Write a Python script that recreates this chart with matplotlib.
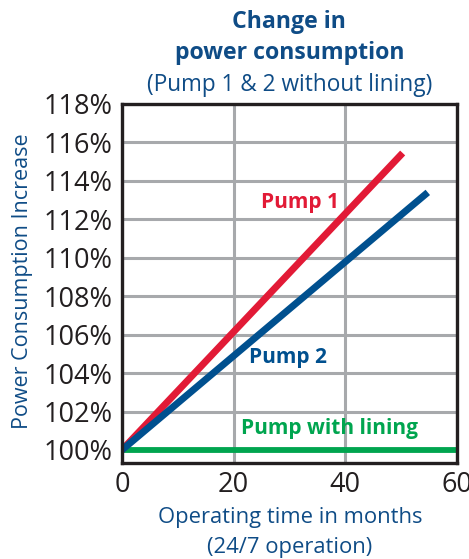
import matplotlib
matplotlib.use("Agg")
import matplotlib.pyplot as plt

plt.rcParams['font.family'] = ['Open Sans', 'DejaVu Sans']

# data
months_pump1 = [0, 50.3]
pump1 = [100, 115.45]
months_pump2 = [0, 54.8]
pump2 = [100, 113.4]
months_lining = [0, 60]
lining = [100, 100]

y_ticks = [100, 102, 104, 106, 108, 110, 112, 114, 116, 118]
y_tick_labels = [f'{v}%' for v in y_ticks]
x_ticks = [0, 20, 40, 60]

red = '#e21a36'
blue = '#00508f'
green = '#00a54f'
navy = '#0f4c86'
dark = '#231f20'

fig = plt.figure(figsize=(4.69, 5.59), dpi=100)
ax = fig.add_axes([0.260, 0.172, 0.714, 0.642])

ax.plot(months_lining, lining, color=green, lw=4.2, solid_capstyle='butt', zorder=3)
ax.plot(months_pump2, pump2, color=blue, lw=5, solid_capstyle='butt', zorder=4)
ax.plot(months_pump1, pump1, color=red, lw=5, solid_capstyle='butt', zorder=3.5)

ax.text(31.9, 112.87, 'Pump 1', color=red, fontsize=15, fontweight='bold', ha='center', va='center')
ax.text(29.7, 104.83, 'Pump 2', color=blue, fontsize=15, fontweight='bold', ha='center', va='center')
ax.text(37.2, 101.1, 'Pump with lining', color=green, fontsize=15, fontweight='bold', ha='center', va='center')

ax.set_xlim(0, 60)
ax.set_ylim(99.33, 118)
ax.set_xticks(x_ticks)
ax.set_yticks(y_ticks)
ax.set_yticklabels(y_tick_labels)
ax.tick_params(length=0, labelsize=19.5, labelcolor=dark)
ax.tick_params(axis='y', pad=7)
ax.tick_params(axis='x', pad=6)
ax.grid(True, color='#a7a9ac', lw=2.2, zorder=1)
ax.set_axisbelow(True)
for s in ax.spines.values():
    s.set_linewidth(2.4)
    s.set_color(dark)
    s.set_zorder(5)

fig.text(0.049, 0.497, 'Power Consumption Increase', color=navy, fontsize=15.5,
         rotation=90, ha='center', va='center')
fig.text(0.618, 1 - 517 / 559, 'Operating time in months', color=navy, fontsize=15.8,
         ha='center', va='center')
fig.text(0.618, 1 - 548 / 559, '(24/7 operation)', color=navy, fontsize=15.8,
         ha='center', va='center')

fig.text(0.617, 1 - 22 / 559, 'Change in', color=navy, fontsize=16.7, fontweight='bold', ha='center', va='center')
fig.text(0.617, 1 - 53 / 559, 'power consumption', color=navy, fontsize=16.7, fontweight='bold', ha='center', va='center')
fig.text(0.617, 1 - 85 / 559, '(Pump 1 & 2 without lining)', color=navy, fontsize=16.3, ha='center', va='center')

fig.savefig('out.png', dpi=100)
